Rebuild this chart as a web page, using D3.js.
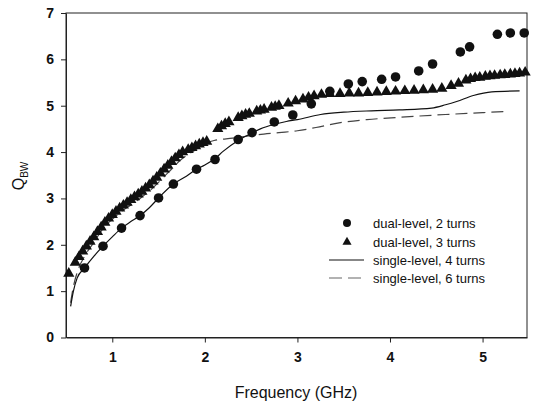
<!DOCTYPE html>
<html><head><meta charset="utf-8">
<script src="https://cdn.jsdelivr.net/npm/d3@7"></script>
<style>
html,body{margin:0;padding:0;background:#fff;}
text{font-family:"Liberation Sans",Arial,sans-serif;fill:#111;}
</style></head>
<body><svg id="chart" width="533" height="403"></svg>
<script>
// ---- data ----
const xTicks = [1, 2, 3, 4, 5];
const yTicks = [0, 1, 2, 3, 4, 5, 6, 7];
const seriesNames = ["dual-level, 2 turns", "dual-level, 3 turns", "single-level, 4 turns", "single-level, 6 turns"];

// dual-level, 2 turns (circles)
const dual2X = [0.70,0.90,1.10,1.30,1.50,1.66,1.91,2.11,2.36,2.51,2.75,2.95,3.15,3.35,3.55,3.70,3.91,4.06,4.31,4.46,4.76,4.86,5.16,5.30,5.45];
const dual2Y = [1.50,1.97,2.36,2.63,3.01,3.31,3.63,3.84,4.27,4.42,4.65,4.80,5.04,5.31,5.47,5.52,5.57,5.62,5.75,5.90,6.16,6.27,6.54,6.57,6.57];

// dual-level, 3 turns (triangles)
const dual3X = [0.53,0.60,0.64,0.68,0.72,0.76,0.80,0.84,0.88,0.92,0.96,1.00,1.04,1.08,1.12,1.16,1.20,1.24,1.28,1.32,1.36,1.40,1.44,1.48,1.52,1.56,1.60,1.64,1.68,1.72,1.76,1.82,1.86,1.90,1.94,1.98,2.02,2.14,2.18,2.22,2.26,2.36,2.40,2.44,2.48,2.56,2.60,2.64,2.72,2.76,2.80,2.90,2.98,3.06,3.12,3.18,3.26,3.35,3.46,3.56,3.66,3.76,3.86,3.96,4.06,4.16,4.26,4.36,4.46,4.56,4.66,4.74,4.82,4.87,4.92,4.97,5.03,5.08,5.13,5.19,5.24,5.30,5.35,5.40,5.46];
const dual3Y = [1.38,1.62,1.74,1.86,1.97,2.07,2.17,2.28,2.38,2.48,2.57,2.65,2.72,2.79,2.85,2.91,2.97,3.03,3.09,3.15,3.22,3.29,3.37,3.45,3.54,3.63,3.71,3.79,3.87,3.94,4.00,4.05,4.09,4.13,4.17,4.20,4.23,4.50,4.56,4.61,4.65,4.74,4.78,4.81,4.83,4.88,4.90,4.92,4.96,4.98,5.00,5.05,5.10,5.14,5.18,5.21,5.24,5.26,5.26,5.27,5.27,5.28,5.29,5.30,5.31,5.32,5.33,5.34,5.35,5.37,5.43,5.48,5.55,5.58,5.60,5.61,5.63,5.64,5.65,5.66,5.67,5.68,5.69,5.70,5.72];

// single-level, 4 turns (solid line)
const single4X = [0.55,0.58,0.62,0.70,0.80,0.90,1.00,1.10,1.20,1.30,1.40,1.50,1.66,1.80,1.91,2.00,2.11,2.20,2.36,2.50,2.60,2.75,2.88,3.00,3.25,3.50,3.80,4.10,4.45,4.60,4.72,4.90,5.10,5.40];
const single4Y = [0.67,1.00,1.28,1.50,1.75,1.97,2.17,2.36,2.50,2.63,2.80,3.01,3.31,3.48,3.63,3.72,3.86,4.02,4.25,4.40,4.50,4.60,4.66,4.70,4.81,4.86,4.89,4.91,4.95,5.02,5.09,5.22,5.30,5.32];

// single-level, 6 turns (dashed line)
const single6X = [0.55,0.58,0.62,0.70,0.80,0.90,1.00,1.10,1.20,1.30,1.45,1.60,1.75,1.90,2.00,2.10,2.30,2.55,2.80,3.00,3.20,3.45,3.75,4.10,4.60,5.00,5.27];
const single6Y = [0.75,1.10,1.40,1.75,2.05,2.35,2.55,2.72,2.86,3.00,3.25,3.55,3.85,4.05,4.18,4.25,4.30,4.37,4.42,4.46,4.53,4.63,4.70,4.75,4.81,4.85,4.88];

// ---- drawing ----
const svg = d3.select("#chart");
const L = 66, R = 527, T = 13, B = 337.5;
const x = d3.scaleLinear().domain([0.5, 5.48]).range([L, R]);
const y = d3.scaleLinear().domain([0, 7]).range([B, T]);

const zip = (xs, ys) => xs.map((v, i) => [v, ys[i]]);

// frame
svg.append("rect").attr("x", L).attr("y", T).attr("width", R - L).attr("height", B - T)
  .attr("fill", "none").attr("stroke", "#222").attr("stroke-width", 1);

// axes
const xAxis = svg.append("g").attr("transform", `translate(0,${B})`)
  .call(d3.axisBottom(x).tickValues(xTicks).tickFormat(d3.format("d")).tickSize(5).tickSizeOuter(0).tickPadding(10));
const yAxis = svg.append("g").attr("transform", `translate(${L},0)`)
  .call(d3.axisLeft(y).tickValues(yTicks).tickFormat(d3.format("d")).tickSize(5).tickSizeOuter(0).tickPadding(7));
[xAxis, yAxis].forEach(g => {
  g.selectAll("path.domain").attr("stroke", "#222");
  g.selectAll(".tick line").attr("stroke", "#222");
  g.selectAll(".tick text").style("font-size", "14px").style("font-weight", "bold")
    .style("font-family", "Liberation Sans, Arial, sans-serif").attr("fill", "#111");
});

// axis titles
svg.append("text").attr("x", 296).attr("y", 398).attr("text-anchor", "middle")
  .style("font-size", "16px").text("Frequency (GHz)");
const yl = svg.append("text").attr("transform", "translate(24,176) rotate(-90)").attr("text-anchor", "middle")
  .style("font-size", "16px");
yl.append("tspan").text("Q");
yl.append("tspan").attr("dy", 4).style("font-size", "10px").text("BW");

const line = d3.line().x(d => x(d[0])).y(d => y(d[1])).curve(d3.curveMonotoneX);

// lines
svg.append("path").datum(zip(single6X, single6Y)).attr("d", line)
  .attr("fill", "none").attr("stroke", "#444").attr("stroke-width", 1.2).attr("stroke-dasharray", "12,6");
svg.append("path").datum(zip(single4X, single4Y)).attr("d", line)
  .attr("fill", "none").attr("stroke", "#111").attr("stroke-width", 1.2);

// markers
const tri = d3.symbol().type(d3.symbolTriangle).size(54);
svg.append("g").selectAll("path").data(zip(dual3X, dual3Y)).join("path")
  .attr("d", tri).attr("transform", d => `translate(${x(d[0])},${y(d[1])})`).attr("fill", "#111");
svg.append("g").selectAll("circle").data(zip(dual2X, dual2Y)).join("circle")
  .attr("cx", d => x(d[0])).attr("cy", d => y(d[1])).attr("r", 4.8).attr("fill", "#111");

// legend
const lg = svg.append("g");
const rows = [223, 242, 260, 278];
const symX = 347, txtX = 373;
lg.append("circle").attr("cx", symX).attr("cy", rows[0]).attr("r", 4).attr("fill", "#111");
lg.append("path").attr("d", d3.symbol().type(d3.symbolTriangle).size(36)).attr("transform", `translate(${symX},${rows[1]})`).attr("fill", "#111");
lg.append("line").attr("x1", 329).attr("x2", 364).attr("y1", rows[2]).attr("y2", rows[2]).attr("stroke", "#111").attr("stroke-width", 1.2);
lg.append("line").attr("x1", 329).attr("x2", 364).attr("y1", rows[3]).attr("y2", rows[3]).attr("stroke", "#666").attr("stroke-width", 1.2).attr("stroke-dasharray", "13,6");
lg.selectAll("text").data(seriesNames).join("text")
  .attr("x", txtX).attr("y", (d, i) => rows[i]).attr("dy", "0.35em")
  .style("font-size", "13px").text(d => d);
</script></body></html>
